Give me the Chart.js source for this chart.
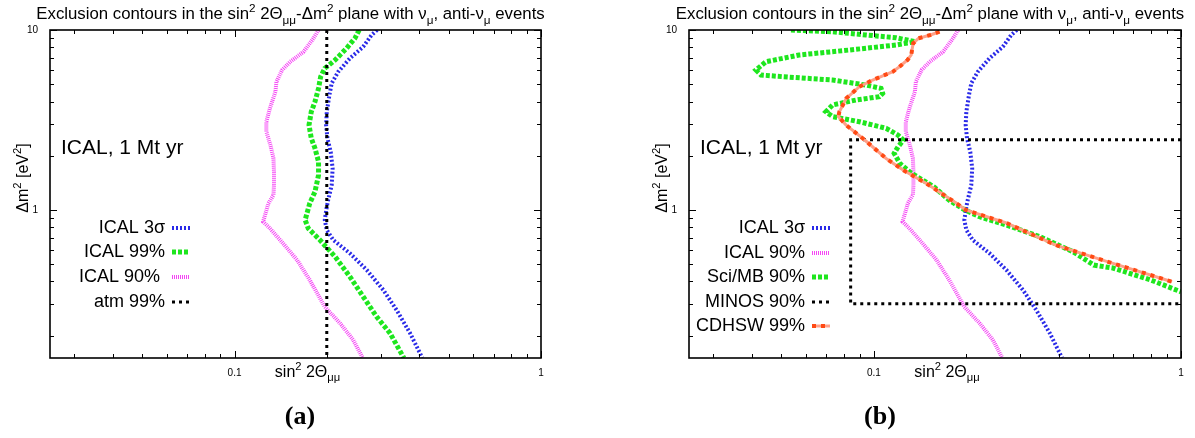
<!DOCTYPE html>
<html>
<head>
<meta charset="utf-8">
<script src="https://cdn.jsdelivr.net/npm/chart.js@4"></script>
<style>
  body { margin:0; background:#fff; width:1195px; height:438px; overflow:hidden; position:relative; }
  canvas { position:absolute; top:0; }
  #chartA { left:0; }
  #chartB { left:600px; }
</style>
</head>
<body>
<canvas id="chartA" width="600" height="438"></canvas>
<canvas id="chartB" width="595" height="438"></canvas>
<script>
// ---- data (sin^2 2theta, delta m^2) ----
const ical3sX = [0.292,0.280,0.263,0.238,0.218,0.2075,0.204,0.200,0.199,0.201,0.206,0.209,0.2075,0.202,0.200,0.197,0.200,0.210,0.238,0.270,0.306,0.338,0.374,0.410]
const ical3sY = [10,9.38,8.07,6.96,5.86,5.05,4.35,3.51,2.96,2.50,2.10,1.70,1.37,1.13,1.04,0.878,0.772,0.679,0.573,0.463,0.358,0.277,0.206,0.15]

const ical99X = [0.255,0.247,0.232,0.213,0.197,0.191,0.188,0.183,0.178,0.175,0.178,0.183,0.188,0.188,0.183,0.176,0.170,0.174,0.190,0.213,0.238,0.263,0.291,0.322,0.357]
const ical99Y = [10,8.99,7.91,6.81,6.12,5.50,4.74,3.99,3.51,2.96,2.50,2.20,1.85,1.56,1.26,1.087,0.878,0.789,0.679,0.548,0.4245,0.3286,0.2543,0.2056,0.15]

const ical90X = [0.188,0.181,0.168,0.152,0.143,0.137,0.136,0.1305,0.127,0.127,0.131,0.134,0.1345,0.1345,0.134,0.129,0.124,0.1305,0.144,0.160,0.176,0.197,0.221,0.244,0.262]
const ical90Y = [10,8.99,7.57,6.66,5.99,5.16,4.54,3.67,3.09,2.72,2.29,1.93,1.63,1.37,1.21,1.087,0.859,0.789,0.651,0.526,0.407,0.289,0.234,0.189,0.15]

const atm99X = [0.2,0.2]
const atm99Y = [10,0.15]

const sciMbX = [0.0537,0.0732,0.0943,0.118,0.136,0.118,0.0832,0.0571,0.0445,0.0413,0.0429,0.0504,0.0734,0.0943,0.1055,0.1068,0.1042,0.0875,0.0734,0.0698,0.0734,0.0897,0.1096,0.1196,0.1248,0.1198,0.1164,0.1215,0.1323,0.1571,0.176,0.1974,0.221,0.270,0.347,0.445,0.520,0.600,0.798,1.0]
const sciMbY = [10,9.78,9.38,9.06,8.61,8.25,7.74,7.26,6.66,5.99,5.62,5.50,5.27,4.94,4.74,4.44,4.26,4.08,3.83,3.51,3.30,3.09,2.84,2.61,2.44,2.24,2.06,1.81,1.60,1.34,1.13,1.0,0.915,0.823,0.709,0.585,0.493,0.4746,0.407,0.35]

const minosX = [1,0.084,0.084,1]
const minosY = [2.45,2.45,0.3,0.3]

const cdhswX = [0.1636,0.1527,0.1397,0.1342,0.1323,0.1286,0.1211,0.1152,0.0991,0.0897,0.0813,0.0772,0.0766,0.0812,0.0919,0.1096,0.1248,0.1483,0.1858,0.1988,0.270,0.391,0.579,0.935]
const cdhswY = [9.78,9.38,8.99,8.43,7.26,6.81,6.25,5.86,5.27,4.84,4.17,3.51,3.30,2.96,2.50,1.93,1.66,1.40,1.087,1.0,0.845,0.637,0.514,0.398]

// axis ranges and labelled ticks
const xRange = [0.025, 1]
const yRange = [0.15, 10]
const xTickMajor = [0.1, 1]
const yTickMajor = [1, 10]

const FONT = '"Liberation Sans", Arial, Helvetica, sans-serif'

function minorTicks(lo, hi) {
    let out = []
    for (let d = 0.01; d < 100; d *= 10) {
        for (let m = 1; m <= 9; m++) {
            let v = +(m * d).toPrecision(3)
            if (v >= lo && v <= hi) out.push(v)
        }
    }
    return out
}
const xTicks = minorTicks(xRange[0], xRange[1])
const yTicks = minorTicks(yRange[0], yRange[1])

function pts(xs, ys) {
    return xs.map((x, i) => ({x: x, y: ys[i]}))
}

// line looks (gnuplot thick dotted styles)
const st = {
    blue:    {color:'#2a2ae8', width:4, dash:[2,2]},
    green:   {color:'#1ee61e', width:5, dash:[4,2]},
    magenta: {color:'#f547f5', width:4, dash:[1,1]},
    black:   {color:'#000000', width:3, dash:[3,4]},
    orBase:  {color:'#ffa088', width:3, dash:[]},
    orDot:   {color:'#ff4a14', width:4, dash:[4,5]}
}

function ds(label, data, s, order) {
    return {
        label: label, data: data, showLine: true, pointRadius: 0, fill: false,
        borderColor: s.color, borderWidth: s.width, borderDash: s.dash,
        borderCapStyle: 'butt', tension: 0, order: order
    }
}

// rich text: parts [text, kind] kind 0 normal, 1 superscript, -1 subscript
function richWidth(ctx, parts, size) {
    let w = 0
    parts.forEach(p => {
        ctx.font = (p[1] ? size*0.7 : size) + 'px ' + FONT
        w += ctx.measureText(p[0]).width
    })
    return w
}
function drawRich(ctx, parts, x, y, size) {
    // x = centre, y = baseline
    let w = richWidth(ctx, parts, size)
    let cx = x - w/2
    ctx.textAlign = 'left'
    ctx.textBaseline = 'alphabetic'
    ctx.fillStyle = '#000'
    parts.forEach(p => {
        let s = p[1] ? size*0.7 : size
        ctx.font = s + 'px ' + FONT
        let dy = p[1] == 1 ? -size*0.42 : (p[1] == -1 ? size*0.28 : 0)
        ctx.fillText(p[0], cx, y + dy)
        cx += ctx.measureText(p[0]).width
    })
}

const titleParts = [['Exclusion contours in the sin',0],['2',1],[' 2\u0398',0],['\u03bc\u03bc',-1],['-\u0394m',0],['2',1],[' plane with \u03bd',0],['\u03bc',-1],[', anti-\u03bd',0],['\u03bc',-1],[' events',0]]
const xLabelParts = [['sin',0],['2',1],[' 2\u0398',0],['\u03bc\u03bc',-1]]
const yLabelParts = [['\u0394m',0],['2',1],[' [eV',0],['2',1],[']',0]]

function decor(cfg) {
    return {
        id: 'decor',
        afterDatasetsDraw(chart) {
            const ctx = chart.ctx
            const a = chart.chartArea
            const xs = chart.scales.x, ys = chart.scales.y
            ctx.save()
            ctx.strokeStyle = '#000'
            ctx.lineWidth = 1
            ctx.setLineDash([])
            ctx.beginPath()
            xTicks.forEach(v => {
                let p = Math.round(xs.getPixelForValue(v)) + 0.5
                let len = xTickMajor.includes(v) ? 7 : 4
                ctx.moveTo(p, a.bottom); ctx.lineTo(p, a.bottom - len)
                ctx.moveTo(p, a.top); ctx.lineTo(p, a.top + len)
            })
            yTicks.forEach(v => {
                let p = Math.round(ys.getPixelForValue(v)) + 0.5
                let len = yTickMajor.includes(v) ? 7 : 4
                ctx.moveTo(a.left, p); ctx.lineTo(a.left + len, p)
                ctx.moveTo(a.right, p); ctx.lineTo(a.right - len, p)
            })
            ctx.stroke()
            ctx.lineWidth = 1.6
            ctx.strokeRect(a.left, a.top, a.right - a.left, a.bottom - a.top)

            // title, axis labels
            drawRich(ctx, titleParts, (a.left + a.right)/2 - 5, 19, 16.8)
            drawRich(ctx, xLabelParts, (a.left + a.right)/2 + 12, 377, 16)
            ctx.save()
            ctx.translate(a.left - 28, 178)
            ctx.rotate(-Math.PI/2)
            drawRich(ctx, yLabelParts, 0, 6, 16)
            ctx.restore()

            // annotation
            ctx.font = '21px ' + FONT
            ctx.fillStyle = '#000'
            ctx.textAlign = 'left'
            ctx.textBaseline = 'middle'
            ctx.fillText('ICAL, 1 Mt yr', a.left + 11, 148)

            // key
            ctx.font = '18px ' + FONT
            ctx.textAlign = 'right'
            cfg.keys.forEach((k, i) => {
                let yy = cfg.keyRows[i]
                ctx.fillStyle = '#000'
                ctx.fillText(k.text, a.left + cfg.keyRight, yy)
                k.styles.forEach(s => {
                    ctx.beginPath()
                    ctx.strokeStyle = s.color
                    ctx.lineWidth = s.width
                    ctx.setLineDash(s.dash)
                    ctx.lineCap = 'butt'
                    ctx.moveTo(a.left + cfg.keyRight + 7, yy)
                    ctx.lineTo(a.left + cfg.keyRight + 25, yy)
                    ctx.stroke()
                })
            })
            ctx.setLineDash([])

            // sub-figure letter
            ctx.font = 'bold 26px "Liberation Serif", "Times New Roman", serif'
            ctx.fillStyle = '#000'
            ctx.textAlign = 'center'
            ctx.textBaseline = 'middle'
            ctx.fillText(cfg.letter, cfg.letterX, 417)
            ctx.restore()
        }
    }
}

function makeChart(id, datasets, leftW, rightPad, cfg) {
    return new Chart(document.getElementById(id), {
        type: 'scatter',
        data: {datasets: datasets},
        options: {
            responsive: false,
            animation: false,
            devicePixelRatio: 1,
            layout: {padding: {top: 30, right: rightPad, bottom: 0, left: 0}},
            plugins: {legend: {display: false}, title: {display: false}, tooltip: {enabled: false}},
            scales: {
                x: {
                    type: 'logarithmic', min: xRange[0], max: xRange[1],
                    afterBuildTicks: s => { s.ticks = xTicks.map(v => ({value: v})) },
                    afterFit: s => { s.height = 80 },
                    grid: {display: false}, border: {display: false},
                    ticks: {autoSkip: false, maxRotation: 0, padding: 1, color: '#000',
                        font: {family: FONT, size: 10},
                        callback: v => xTickMajor.includes(v) ? String(v) : ''}
                },
                y: {
                    type: 'logarithmic', min: yRange[0], max: yRange[1],
                    afterBuildTicks: s => { s.ticks = yTicks.map(v => ({value: v})) },
                    afterFit: s => { s.width = leftW },
                    grid: {display: false}, border: {display: false},
                    ticks: {autoSkip: false, padding: 4, color: '#000',
                        font: {family: FONT, size: 10},
                        callback: v => yTickMajor.includes(v) ? String(v) : ''}
                }
            }
        },
        plugins: [decor(cfg)]
    })
}

// panel (a)
makeChart('chartA', [
    ds('ICAL 3\u03c3', pts(ical3sX, ical3sY), st.blue, 4),
    ds('ICAL 99%', pts(ical99X, ical99Y), st.green, 3),
    ds('ICAL 90%', pts(ical90X, ical90Y), st.magenta, 2),
    ds('atm 99%', pts(atm99X, atm99Y), st.black, 1)
], 50, 59, {
    letter: '(a)', letterX: 300, keyRight: 115,
    keyRows: [228, 252, 277, 302],
    keys: [
        {text: 'ICAL 3\u03c3', styles: [st.blue]},
        {text: 'ICAL 99%', styles: [st.green]},
        {text: 'ICAL 90% ', styles: [st.magenta]},
        {text: 'atm 99%', styles: [st.black]}
    ]
})

// panel (b)
makeChart('chartB', [
    ds('ICAL 3\u03c3', pts(ical3sX, ical3sY), st.blue, 6),
    ds('ICAL 90%', pts(ical90X, ical90Y), st.magenta, 5),
    ds('Sci/MB 90%', pts(sciMbX, sciMbY), st.green, 4),
    ds('MINOS 90%', pts(minosX, minosY), st.black, 3),
    ds('CDHSW 99%', pts(cdhswX, cdhswY), st.orBase, 2),
    ds('CDHSW 99%', pts(cdhswX, cdhswY), st.orDot, 1)
], 89, 14, {
    letter: '(b)', letterX: 280, keyRight: 116,
    keyRows: [228, 253, 277, 302, 326],
    keys: [
        {text: 'ICAL 3\u03c3', styles: [st.blue]},
        {text: 'ICAL 90%', styles: [st.magenta]},
        {text: 'Sci/MB 90%', styles: [st.green]},
        {text: 'MINOS 90%', styles: [st.black]},
        {text: 'CDHSW 99%', styles: [st.orBase, st.orDot]}
    ]
})
</script>
</body>
</html>
